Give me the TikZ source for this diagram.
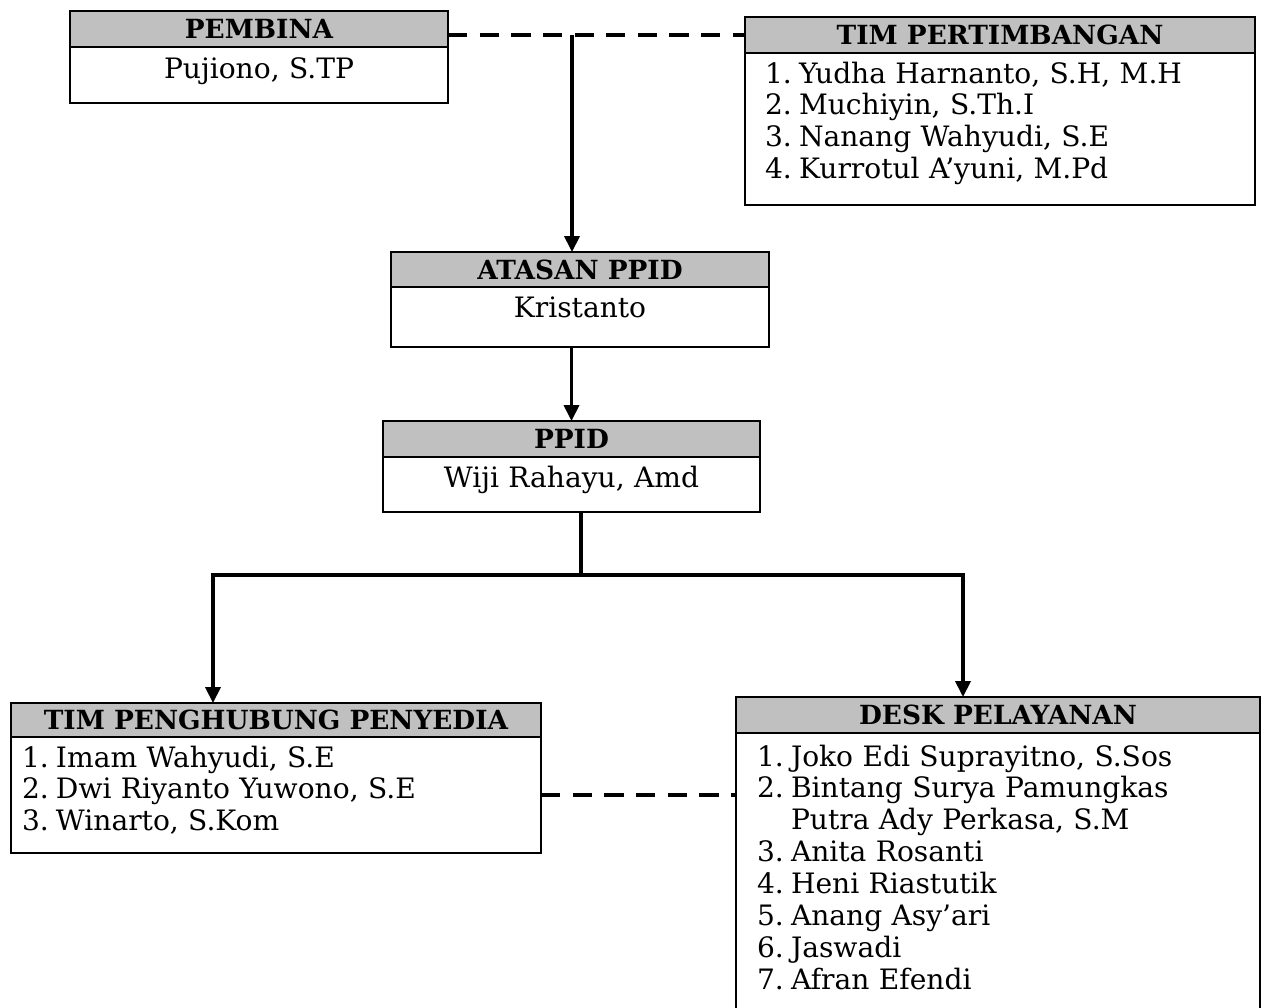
\documentclass[tikz,border=0pt]{standalone}
\usepackage{fontspec}
\setmainfont{DejaVu Serif}
\usetikzlibrary{arrows.meta, positioning}
\definecolor{kepala}{HTML}{C0C0C0}
\newcommand{\nomor}[1]{\makebox[0.68cm][l]{#1}}
\tikzset{
  judul/.style={rectangle, draw=black, fill=kepala, line width=1.3pt,
                inner sep=0pt, outer sep=0pt, anchor=north west,
                font=\fontsize{15}{18}\selectfont\bfseries},
  isi/.style={rectangle, draw=black, line width=1.3pt, inner ysep=0pt,
              outer sep=0pt, font=\fontsize{16}{18.14}\selectfont},
  garis/.style={line width=2pt},
  panah/.style={-{Triangle[length=9pt, width=8.5pt]}, line width=2pt},
  putus/.style={line width=2pt, dash pattern=on 11pt off 7pt},
}

\begin{document}
\begin{tikzpicture}
  \useasboundingbox (0,0) rectangle (25.24,-20.14);

  % pembina dan tim pertimbangan
  \node[judul, minimum width=7.56cm, minimum height=0.72cm] (pembina) at (1.40,-0.22) {PEMBINA};
  \node[isi, inner xsep=0pt, text width=7.56cm, align=center, text height=0.62cm,
        text depth=0.50cm, below=0pt of pembina] (pembinaisi) {Pujiono, S.TP};

  \node[judul, minimum width=10.20cm, minimum height=0.72cm] (tim) at (14.90,-0.34) {TIM PERTIMBANGAN};
  \node[isi, inner xsep=0.40cm, text width=9.40cm, align=left, text height=0.60cm,
        text depth=2.44cm, below=0pt of tim] (timisi)
    {\nomor{1.}Yudha Harnanto, S.H, M.H\\
     \nomor{2.}Muchiyin, S.Th.I\\
     \nomor{3.}Nanang Wahyudi, S.E\\
     \nomor{4.}Kurrotul A'yuni, M.Pd};

  % atasan ppid dan ppid
  \node[judul, minimum width=7.56cm, minimum height=0.70cm] (atasan) at (7.82,-5.04) {ATASAN PPID};
  \node[isi, inner xsep=0pt, text width=7.56cm, align=center, text height=0.60cm,
        text depth=0.60cm, below=0pt of atasan] (atasanisi) {Kristanto};

  \node[judul, minimum width=7.54cm, minimum height=0.72cm] (ppid) at (7.66,-8.42) {PPID};
  \node[isi, inner xsep=0pt, text width=7.54cm, align=center, text height=0.60cm,
        text depth=0.50cm, below=0pt of ppid] (ppidisi) {Wiji Rahayu, Amd};

  % tim penghubung dan desk pelayanan
  \node[judul, minimum width=10.60cm, minimum height=0.68cm] (tpp) at (0.22,-14.06) {TIM PENGHUBUNG PENYEDIA};
  \node[isi, inner xsep=0.22cm, text width=10.16cm, align=left, text height=0.60cm,
        text depth=1.72cm, below=0pt of tpp] (tppisi)
    {\nomor{1.}Imam Wahyudi, S.E\\
     \nomor{2.}Dwi Riyanto Yuwono, S.E\\
     \nomor{3.}Winarto, S.Kom};

  \node[judul, minimum width=10.48cm, minimum height=0.72cm] (desk) at (14.72,-13.94) {DESK PELAYANAN};
  \node[isi, inner xsep=0.42cm, text width=9.64cm, align=left, text height=0.66cm,
        text depth=6.60cm, below=0pt of desk] (deskisi)
    {\nomor{1.}Joko Edi Suprayitno, S.Sos\\
     \nomor{2.}Bintang Surya Pamungkas\\
     \nomor{}Putra Ady Perkasa, S.M\\
     \nomor{3.}Anita Rosanti\\
     \nomor{4.}Heni Riastutik\\
     \nomor{5.}Anang Asy'ari\\
     \nomor{6.}Jaswadi\\
     \nomor{7.}Afran Efendi};

  % garis penghubung
  \coordinate (cabang) at (11.44,-0.70);
  \coordinate (simpul) at (11.62,-11.50);
  \coordinate (kiri) at (4.26,-11.50);
  \coordinate (kanan) at (19.26,-11.50);

  \draw[putus] (pembina.east |- tim.west) -- (tim.west);
  \draw[panah] (cabang) -- (cabang |- atasan.north);
  \draw[panah] (ppid.north |- atasanisi.south) -- (ppid.north);
  \draw[garis] (ppidisi.south -| simpul) -- (simpul);
  \draw[panah] (simpul) -- (kiri) -- (kiri |- tpp.north);
  \draw[panah] (simpul) -- (kanan) -- (kanan |- desk.north);
  \draw[putus] (tppisi.east) -- (tppisi.east -| deskisi.west);
\end{tikzpicture}
\end{document}
